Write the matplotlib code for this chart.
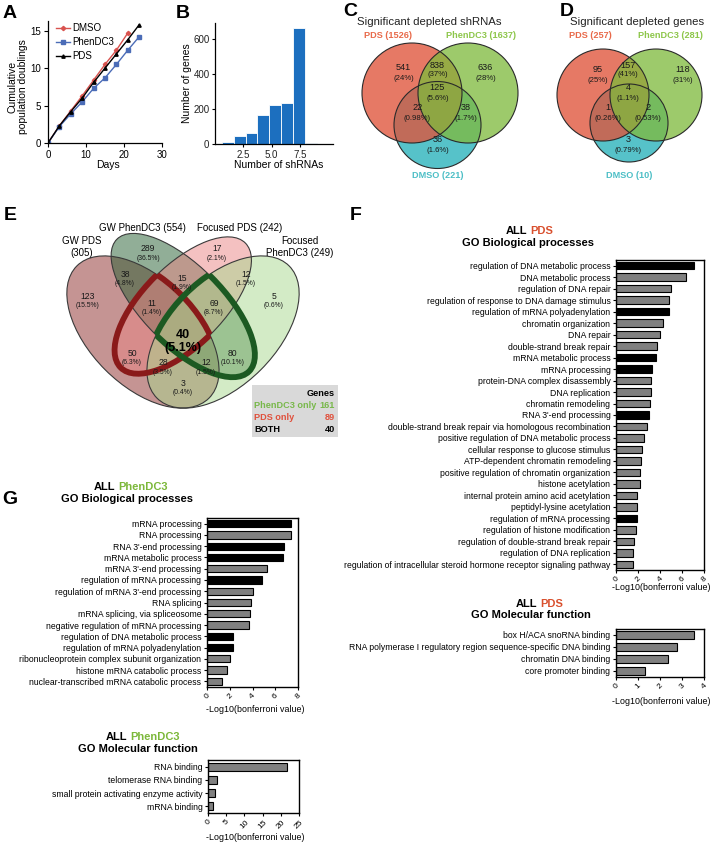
import numpy as np
import matplotlib
matplotlib.use("Agg")
import matplotlib.pyplot as plt
from matplotlib.patches import Circle, Ellipse, Rectangle

plt.rcParams['font.family'] = ['Liberation Sans', 'DejaVu Sans']
plt.rcParams['axes.linewidth'] = 0.9

W, H = 711, 844

#%% data
# A: population doublings
days_dmso = [0, 3, 6, 9, 12, 15, 18, 21]
pd_dmso = [0, 2.3, 4.3, 6.3, 8.4, 10.5, 12.4, 14.7]
days_long = [0, 3, 6, 9, 12, 15, 18, 21, 24]
pd_phen = [0, 2.2, 3.9, 5.5, 7.3, 8.7, 10.5, 12.4, 14.2]
pd_pds = [0, 2.3, 4.2, 6.0, 8.1, 10.0, 11.9, 13.8, 15.8]

# B: genes by number of shRNAs
shrna_edges = np.linspace(0.6, 10.0, 10)
genes_per_bin = [12, 45, 60, 165, 222, 232, 660, 3, 2]

# C / D: three-set venns (PDS only, PhenDC3 only, DMSO only, PDS&PhenDC3, PDS&DMSO, PhenDC3&DMSO, all)
c_counts = [541, 636, 36, 838, 22, 38, 125]
c_pcts = ['24%', '28%', '1.6%', '37%', '0.98%', '1.7%', '5.6%']
c_sets = ['PDS (1526)', 'PhenDC3 (1637)', 'DMSO (221)']
d_counts = [95, 118, 3, 157, 1, 2, 4]
d_pcts = ['25%', '31%', '0.79%', '41%', '0.26%', '0.53%', '1.1%']
d_sets = ['PDS (257)', 'PhenDC3 (281)', 'DMSO (10)']

# E: four-set venn
e_sets = ['GW PDS\n(305)', 'GW PhenDC3 (554)', 'Focused PDS (242)', 'Focused\nPhenDC3 (249)']
e_counts = ['289', '17', '38', '15', '12', '123', '11', '69', '5', '50', '80', '28', '12', '3']
e_pcts = ['36.5%', '2.1%', '4.8%', '1.9%', '1.5%', '15.5%', '1.4%', '8.7%', '0.6%',
          '6.3%', '10.1%', '3.5%', '1.5%', '0.4%']
e_both = ['40', '5.1%']
legend_rows = ['PhenDC3 only', 'PDS only', 'BOTH']
legend_vals = [161, 89, 40]

# F: ALL PDS GO terms
f_bp_terms = ['regulation of DNA metabolic process', 'DNA metabolic process',
              'regulation of DNA repair', 'regulation of response to DNA damage stimulus',
              'regulation of mRNA polyadenylation', 'chromatin organization', 'DNA repair',
              'double-strand break repair', 'mRNA metabolic process', 'mRNA processing',
              'protein-DNA complex disassembly', 'DNA replication', 'chromatin remodeling',
              "RNA 3'-end processing", 'double-strand break repair via homologous recombination',
              'positive regulation of DNA metabolic process', 'cellular response to glucose stimulus',
              'ATP-dependent chromatin remodeling', 'positive regulation of chromatin organization',
              'histone acetylation', 'internal protein amino acid acetylation',
              'peptidyl-lysine acetylation', 'regulation of mRNA processing',
              'regulation of histone modification', 'regulation of double-strand break repair',
              'regulation of DNA replication',
              'regulation of intracellular steroid hormone receptor signaling pathway']
f_bp_vals = [7.1, 6.4, 5.0, 4.8, 4.8, 4.3, 4.0, 3.7, 3.6, 3.3, 3.2, 3.2, 3.1, 3.0, 2.8,
             2.5, 2.4, 2.25, 2.15, 2.15, 1.95, 1.95, 1.9, 1.8, 1.65, 1.5, 1.5]
f_bp_shared = [1, 0, 0, 0, 1, 0, 0, 0, 1, 1, 0, 0, 0, 1, 0,
               0, 0, 0, 0, 0, 0, 0, 1, 0, 0, 0, 0]
f_mf_terms = ['box H/ACA snoRNA binding',
              'RNA polymerase I regulatory region sequence-specific DNA binding',
              'chromatin DNA binding', 'core promoter binding']
f_mf_vals = [3.55, 2.75, 2.35, 1.33]
f_mf_shared = [0, 0, 0, 0]

# G: ALL PhenDC3 GO terms
g_bp_terms = ['mRNA processing', 'RNA processing', "RNA 3'-end processing",
              'mRNA metabolic process', "mRNA 3'-end processing", 'regulation of mRNA processing',
              "regulation of mRNA 3'-end processing", 'RNA splicing',
              'mRNA splicing, via spliceosome', 'negative regulation of mRNA processing',
              'regulation of DNA metabolic process', 'regulation of mRNA polyadenylation',
              'ribonucleoprotein complex subunit organization', 'histone mRNA catabolic process',
              'nuclear-transcribed mRNA catabolic process']
g_bp_vals = [7.4, 7.4, 6.8, 6.7, 5.3, 4.8, 4.0, 3.85, 3.75, 3.65, 2.3, 2.3, 2.0, 1.75, 1.35]
g_bp_shared = [1, 0, 1, 1, 0, 1, 0, 0, 0, 0, 1, 1, 0, 0, 0]
g_mf_terms = ['RNA binding', 'telomerase RNA binding',
              'small protein activating enzyme activity', 'mRNA binding']
g_mf_vals = [21.7, 2.6, 2.0, 1.4]
g_mf_shared = [0, 0, 0, 0]

RED = '#e0533a'
GREEN = '#7fba3c'
CYAN = '#4dbfc6'

fig = plt.figure(figsize=(W / 100, H / 100), dpi=100)


def px_axes(x0, y0, x1, y1, **kw):
    return fig.add_axes([x0 / W, 1 - y1 / H, (x1 - x0) / W, (y1 - y0) / H], **kw)


# overlay in pixel coordinates for annotations
ov = px_axes(0, 0, W, H, zorder=5)
ov.set_xlim(0, W)
ov.set_ylim(H, 0)
ov.axis('off')

for letter, (lx, ly) in zip('ABCDEFG', [(10, 13), (183, 13), (350, 12), (567, 12),
                                         (10, 215), (356, 215), (10, 500)]):
    ov.text(lx, ly, letter, fontsize=14, fontweight='bold', ha='center', va='center')

#%% A
axA = px_axes(48, 21, 162, 143)
axA.plot(days_dmso, pd_dmso, color='#d9534f', marker='D', ms=2.2, lw=1.0, label='DMSO')
axA.plot(days_long, pd_phen, color='#4b6cb7', marker='s', ms=2.2, lw=1.0, label='PhenDC3')
axA.plot(days_long, pd_pds, color='black', marker='^', ms=2.4, lw=1.0, label='PDS')
axA.set_xlim(0, 30)
axA.set_ylim(0, 16.3)
axA.set_xticks([0, 10, 20, 30])
axA.set_yticks([0, 5, 10, 15])
axA.spines[['top', 'right']].set_visible(False)
axA.tick_params(labelsize=7, length=3, pad=2)
axA.legend(loc='upper left', bbox_to_anchor=(0.02, 1.03), frameon=False, fontsize=7,
           handlelength=1.4, handletextpad=0.3, labelspacing=0.4, borderaxespad=0.2)
ov.text(18, 87, 'Cumulative\npopulation doublings', rotation=90, fontsize=7.5,
        ha='center', va='center', linespacing=1.1)
ov.text(108, 165, 'Days', fontsize=7.5, ha='center', va='center')

#%% B
axB = px_axes(215, 23, 333, 144)
axB.hist(np.repeat((shrna_edges[:-1] + shrna_edges[1:]) / 2, genes_per_bin), bins=shrna_edges,
         color='#1c6fbf', edgecolor='white', linewidth=0.6)
axB.set_xlim(0, 10.4)
axB.set_ylim(0, 690)
axB.set_xticks([2.5, 5.0, 7.5])
axB.set_xticklabels(['2.5', '5.0', '7.5'])
axB.set_yticks([0, 200, 400, 600])
axB.spines[['top', 'right']].set_visible(False)
axB.tick_params(labelsize=7, length=2.5, pad=1.5, labelcolor='#222222')
ov.text(187, 83, 'Number of genes', rotation=90, fontsize=7.5, ha='center', va='center')
ov.text(279, 165, 'Number of shRNAs', fontsize=7.5, ha='center', va='center')


#%% C and D
def venn3(geom, tx, title, sets, set_x, counts, pcts, offs, cx):
    # geom: (x, y, r) for PDS, PhenDC3 and DMSO circles
    (rx, ry, rr), (gx, gy, gr), (dx0, dy0, dr) = geom
    ov.add_patch(Circle((dx0, dy0), dr, fc=CYAN, ec='none', alpha=0.95))
    ov.add_patch(Circle((rx, ry), rr, fc=RED, ec='none', alpha=0.78))
    ov.add_patch(Circle((gx, gy), gr, fc=GREEN, ec='none', alpha=0.76))
    for (x, y, r) in geom:
        ov.add_patch(Circle((x, y), r, fc='none', ec='#2a2a2a', lw=0.8))
    ov.text(tx, 22, title, fontsize=8.2, ha='center', va='center', color='#222222')
    ov.text(set_x[0], 36, sets[0], fontsize=6.6, fontweight='bold', color='#e86a4a',
            ha='center', va='center')
    ov.text(set_x[1], 36, sets[1], fontsize=6.6, fontweight='bold', color='#8dc64a',
            ha='center', va='center')
    ov.text(dx0, 175, sets[2], fontsize=6.6, fontweight='bold', color=CYAN,
            ha='center', va='center')
    for (ox, yy), n, p in zip(offs, counts, pcts):
        ov.text(cx + ox, yy, str(n), fontsize=6.6, ha='center', va='center', color='#1a1a1a')
        ov.text(cx + ox, yy + 10, '(' + p + ')', fontsize=5.6, ha='center', va='center',
                color='#1a1a1a')


venn3([(412, 93, 50), (468, 93, 50), (437.5, 125, 43.5)], 429, 'Significant depleted shRNAs',
      c_sets, (388, 481), c_counts, c_pcts,
      [(-34, 68), (48, 68), (0, 140), (0, 65), (-20, 108), (28, 108), (0, 88)], 437.5)
venn3([(603, 95, 46), (656, 95, 46), (629, 123, 39)], 637, 'Significant depleted genes',
      d_sets, (590, 670), d_counts, d_pcts,
      [(-30, 70), (55, 70), (0, 140), (0, 65), (-20, 108), (20, 108), (0, 88)], 628)

#%% E
axE = px_axes(49.5, 190.5, 316.5, 457.5, zorder=2)
axE.set_xlim(0, 1)
axE.set_ylim(0, 1)
axE.axis('off')
ell = [((0.35, 0.47), 0.35, 0.20, 135, '#8c2a28'),
       ((0.50, 0.57), 0.35, 0.15, 135, '#245e30'),
       ((0.50, 0.57), 0.33, 0.15, 45, '#ea8585'),
       ((0.65, 0.47), 0.35, 0.20, 45, '#a8d88e')]
patches = []
for (xy, a, b, ang, col) in ell:
    axE.add_patch(Ellipse(xy, 2 * a, 2 * b, angle=ang, fc=col, ec='none', alpha=0.5))
    clip = Ellipse(xy, 2 * a, 2 * b, angle=ang, fc='none', ec='none')
    axE.add_patch(clip)
    patches.append(clip)
for (xy, a, b, ang, col) in ell:
    axE.add_patch(Ellipse(xy, 2 * a, 2 * b, angle=ang, fc='none', ec='#3a3a3a', lw=0.8))
# thick outlines: PDS (GW & focused) and PhenDC3 (GW & focused) overlaps
for i, j, col in [(0, 2, '#8a1a1a'), (2, 0, '#8a1a1a'), (1, 3, '#1c5a22'), (3, 1, '#1c5a22')]:
    (xy, a, b, ang, _) = ell[i]
    line = Ellipse(xy, 2 * a, 2 * b, angle=ang, fc='none', ec=col, lw=4.2)
    axE.add_patch(line)
    line.set_clip_path(patches[j])

e_pos = [(0.369, 0.764), (0.627, 0.764), (0.283, 0.670), (0.496, 0.655), (0.736, 0.667),
         (0.144, 0.586), (0.384, 0.560), (0.616, 0.560), (0.841, 0.586),
         (0.309, 0.374), (0.687, 0.374), (0.425, 0.337), (0.586, 0.337), (0.500, 0.262)]
for (ux, uy), n, p in zip(e_pos, e_counts, e_pcts):
    axE.text(ux, uy + 0.017, n, fontsize=6.2, ha='center', va='center', color='#1a1a1a')
    axE.text(ux, uy - 0.017, '(' + p + ')', fontsize=4.9, ha='center', va='center', color='#1a1a1a')
axE.text(0.5, 0.46, e_both[0], fontsize=9, fontweight='bold', ha='center', va='center')
axE.text(0.5, 0.41, '(' + e_both[1] + ')', fontsize=9, fontweight='bold', ha='center', va='center')

for (tx, ty), s in zip([(82, 247), (142, 228), (240, 228), (300, 247)], e_sets):
    ov.text(tx, ty, s, fontsize=7, ha='center', va='center', linespacing=1.2)

ov.add_patch(Rectangle((252, 385), 86, 52, fc='#d9d9d9', ec='none'))
ov.text(335, 394, 'Genes', fontsize=6.6, fontweight='bold', ha='right', va='center')
for k, (lab, v, col) in enumerate(zip(legend_rows, legend_vals, ['#78b84a', '#e0503c', 'black'])):
    yy = 406 + 11.5 * k
    ov.text(254, yy, lab, fontsize=6.6, fontweight='bold', color=col, ha='left', va='center')
    ov.text(335, yy, str(v), fontsize=6.6, fontweight='bold', color=col, ha='right', va='center')


#%% GO panels
def go_panel(box, terms, vals, shared, xmax, xticks, bar_h):
    ax = px_axes(*box)
    n = len(terms)
    y = np.arange(n)
    cols = ['black' if s else '#808080' for s in shared]
    ax.barh(y, vals, height=bar_h, color=cols, edgecolor='black', linewidth=0.8)
    ax.set_ylim(n - 0.5, -0.5)
    ax.set_xlim(0, xmax)
    ax.set_yticks(y)
    ax.set_yticklabels(terms, fontsize=6.2)
    ax.set_xticks(xticks)
    ax.set_xticklabels([str(t) for t in xticks], fontsize=6, rotation=45)
    ax.tick_params(length=2.5, width=0.8, pad=1.5)
    for s in ax.spines.values():
        s.set_linewidth(1.0)
    return ax


def go_title(xsplit, y, word, col, sub, xsub):
    ov.text(xsplit - 1.5, y, 'ALL', fontsize=8, fontweight='bold', ha='right', va='center')
    ov.text(xsplit + 1.5, y, word, fontsize=8, fontweight='bold', ha='left', va='center', color=col)
    ov.text(xsub, y + 11.5, sub, fontsize=8, fontweight='bold', ha='center', va='center')


go_panel((616, 260, 704, 570), f_bp_terms, f_bp_vals, f_bp_shared, 8, [0, 2, 4, 6, 8], 0.65)
go_title(528.5, 231, 'PDS', '#d9502e', 'GO Biological processes', 528)
ov.text(661, 588, '-Log10(bonferroni value)', fontsize=6.4, ha='center', va='center')

go_panel((616, 629, 704, 677), f_mf_terms, f_mf_vals, f_mf_shared, 4, [0, 1, 2, 3, 4], 0.65)
go_title(539, 604, 'PDS', '#d9502e', 'GO Molecular function', 531)
ov.text(661, 702, '-Log10(bonferroni value)', fontsize=6.4, ha='center', va='center')

go_panel((207, 518, 298, 687), g_bp_terms, g_bp_vals, g_bp_shared, 8, [0, 2, 4, 6, 8], 0.65)
go_title(116.5, 487, 'PhenDC3', '#7cb83a', 'GO Biological processes', 127)
ov.text(255, 710, '-Log10(bonferroni value)', fontsize=6.4, ha='center', va='center')

go_panel((208, 760, 299, 813), g_mf_terms, g_mf_vals, g_mf_shared, 25, [0, 5, 10, 15, 20, 25], 0.6)
go_title(129, 737, 'PhenDC3', '#7cb83a', 'GO Molecular function', 138)
ov.text(255, 838, '-Log10(bonferroni value)', fontsize=6.4, ha='center', va='center')

fig.savefig('out.png', dpi=100)
